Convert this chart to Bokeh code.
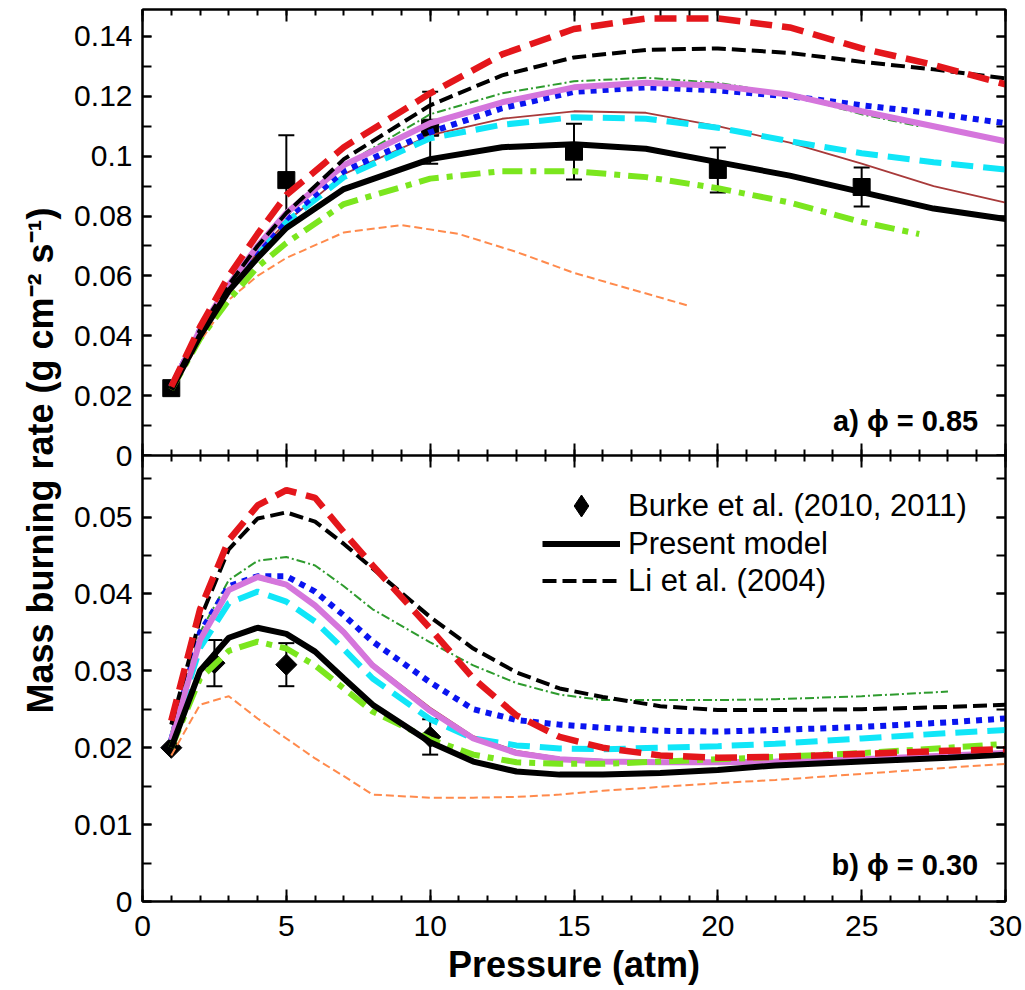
import math
from bokeh.plotting import figure
from bokeh.layouts import row, column
from bokeh.models import (Range1d, SingleIntervalTicker, LinearAxis, CustomJSTickFormatter,
                          Whisker, TeeHead, ColumnDataSource, Legend, LegendItem, Label)
from bokeh.core.properties import value
from bokeh.embed import file_html
from bokeh.resources import INLINE

# ---------------- data: panel a) phi = 0.85 ----------------
P_A = [1, 2, 3, 4, 5, 7, 10, 12.5, 15, 17.5, 20, 22.5, 25, 27.5, 30]
A_RED = [0.023, 0.043, 0.060, 0.074, 0.087, 0.103, 0.121, 0.134, 0.1425, 0.146, 0.146, 0.143, 0.136, 0.1305, 0.124]
A_LI = [0.023, 0.042, 0.057, 0.070, 0.081, 0.099, 0.117, 0.127, 0.133, 0.1355, 0.136, 0.1345, 0.1315, 0.129, 0.126]
A_VIOLET = [0.023, 0.042, 0.057, 0.070, 0.081, 0.097, 0.111, 0.118, 0.123, 0.1245, 0.1235, 0.1205, 0.115, 0.110, 0.105]
A_BLUE = [0.023, 0.042, 0.056, 0.068, 0.079, 0.095, 0.108, 0.116, 0.1215, 0.123, 0.122, 0.120, 0.117, 0.1143, 0.111]
A_BROWN = [0.023, 0.042, 0.056, 0.068, 0.078, 0.094, 0.107, 0.1125, 0.115, 0.1145, 0.110, 0.1045, 0.0975, 0.090, 0.0845]
A_CYAN = [0.023, 0.042, 0.056, 0.068, 0.078, 0.093, 0.106, 0.1105, 0.113, 0.1125, 0.1095, 0.105, 0.101, 0.098, 0.0955]
A_MODEL = [0.022, 0.040, 0.055, 0.066, 0.076, 0.089, 0.099, 0.103, 0.104, 0.1025, 0.098, 0.0935, 0.088, 0.0825, 0.079]
P_A27 = [1, 2, 3, 4, 5, 7, 10, 12.5, 15, 17.5, 20, 22.5, 25, 27]
A_GREEN = [0.023, 0.042, 0.057, 0.069, 0.080, 0.097, 0.114, 0.121, 0.125, 0.1262, 0.1245, 0.1205, 0.114, 0.110]
A_LIME = [0.022, 0.039, 0.052, 0.063, 0.071, 0.084, 0.0925, 0.095, 0.095, 0.093, 0.0893, 0.0845, 0.078, 0.074]
P_A19 = [1, 2, 3, 4, 5, 7, 9, 11, 13, 15, 17, 19]
A_ORANGE = [0.022, 0.038, 0.052, 0.060, 0.066, 0.0745, 0.077, 0.074, 0.068, 0.061, 0.0555, 0.050]
# experiments (Burke et al.)
EXP_A_P = [1, 5, 10, 15, 20, 25]
EXP_A_M = [0.0225, 0.092, 0.1095, 0.1015, 0.0954, 0.0897]
EXP_A_ERR = [0.0, 0.015, 0.012, 0.0093, 0.0075, 0.0065]

# ---------------- data: panel b) phi = 0.30 ----------------
P_B = [1, 2, 3, 4, 5, 6, 7, 8, 10, 11.5, 13, 14.5, 16, 18, 20, 22, 25, 28, 30]
B_RED = [0.0235, 0.038, 0.047, 0.0515, 0.0535, 0.0525, 0.048, 0.0437, 0.0355, 0.029, 0.0242, 0.0214, 0.0200, 0.0190, 0.0187, 0.0188, 0.0192, 0.0196, 0.0198]
B_LI = [0.023, 0.0367, 0.0458, 0.0498, 0.0506, 0.0494, 0.0465, 0.0433, 0.037, 0.0329, 0.0298, 0.0277, 0.0266, 0.0254, 0.0249, 0.0249, 0.025, 0.0253, 0.0256]
B_VIOLET = [0.021, 0.034, 0.0405, 0.0422, 0.0412, 0.0385, 0.035, 0.0307, 0.0248, 0.0212, 0.0193, 0.0185, 0.0182, 0.0181, 0.0181, 0.0182, 0.0185, 0.019, 0.0193]
B_BROWN = [0.021, 0.034, 0.0404, 0.042, 0.041, 0.0387, 0.0353, 0.031, 0.0252, 0.0215, 0.0196, 0.0187, 0.0184, 0.0183, 0.0183, 0.0184, 0.0186, 0.019, 0.0192]
B_BLUE = [0.021, 0.035, 0.041, 0.0423, 0.0423, 0.0403, 0.0372, 0.0338, 0.0285, 0.025, 0.0236, 0.023, 0.0226, 0.0222, 0.0221, 0.0223, 0.0227, 0.0233, 0.0238]
B_CYAN = [0.021, 0.033, 0.0388, 0.0403, 0.039, 0.0364, 0.0328, 0.029, 0.0237, 0.0212, 0.0203, 0.0199, 0.0198, 0.0200, 0.0202, 0.0205, 0.0212, 0.0219, 0.0223]
B_MODEL = [0.020, 0.030, 0.0343, 0.0356, 0.0348, 0.0325, 0.029, 0.0256, 0.0207, 0.0182, 0.0169, 0.0165, 0.0165, 0.0167, 0.0171, 0.0177, 0.0182, 0.0187, 0.0191]
B_LIME = [0.020, 0.029, 0.0326, 0.0338, 0.0329, 0.0307, 0.0277, 0.0247, 0.0211, 0.0191, 0.0181, 0.0179, 0.0179, 0.0182, 0.0185, 0.0188, 0.0193, 0.0200, 0.0205]
B_ORANGE = [0.019, 0.0256, 0.0267, 0.0238, 0.0212, 0.0186, 0.0163, 0.0139, 0.0135, 0.0135, 0.0136, 0.0139, 0.0144, 0.0149, 0.0154, 0.0158, 0.0166, 0.0174, 0.0179]
P_B28 = [1, 2, 3, 4, 5, 6, 7, 8, 10, 11.5, 13, 14.5, 16, 18, 20, 22, 25, 28]
B_GREEN = [0.022, 0.035, 0.0418, 0.0443, 0.0448, 0.0437, 0.041, 0.038, 0.0337, 0.0307, 0.0284, 0.0269, 0.0262, 0.0262, 0.0262, 0.0263, 0.0267, 0.0273]
EXP_B_P = [1, 2.5, 5, 10]
EXP_B_M = [0.020, 0.031, 0.0308, 0.0214]
EXP_B_ERR = [0.0, 0.003, 0.0028, 0.0023]

X_LABEL = "Pressure (atm)"
Y_LABEL = "Mass burning rate (g cm\u207b\u00b2 s\u207b\u00b9)"
LEGEND_LABELS = ["Burke et al. (2010, 2011)", "Present model", "Li et al. (2004)"]
PANEL_A = "a) \u03d5 = 0.85"
PANEL_B = "b) \u03d5 = 0.30"

# ---------------- styles ----------------
ST = {
    "orange": dict(line_color="#ff8a4c", line_width=2, line_dash="8 4"),
    "brown": dict(line_color="#a83a3a", line_width=1.8),
    "green": dict(line_color="#2e9b2e", line_width=2, line_dash="9 3 2 3"),
    "cyan": dict(line_color="#10e6f8", line_width=6, line_dash="22 10"),
    "blue": dict(line_color="#0a14f0", line_width=6, line_dash="6 6"),
    "violet": dict(line_color="#d576dc", line_width=6),
    "lime": dict(line_color="#7be61e", line_width=6, line_dash="20 8 6 8"),
    "model": dict(line_color="black", line_width=6),
    "li": dict(line_color="black", line_width=4, line_dash="14 6"),
    "red": dict(line_color="#e4161b", line_width=6.5, line_dash="22 10"),
}
FONT = value("Liberation Sans")
OVERLAP = 20  # px of panel a's lower border hidden under panel b

empty_fmt = CustomJSTickFormatter(code="return '';")
y_fmt = CustomJSTickFormatter(code="var s = tick.toFixed(3); s = s.replace(/0+$/, ''); s = s.replace(/\\.$/, ''); return s;")
x_fmt = CustomJSTickFormatter(code="return Math.round(tick).toString();")


def style_axis(ax, major_in, minor_in, labels=True, font_size="30px"):
    ax.major_tick_in = major_in
    ax.major_tick_out = 0
    ax.minor_tick_in = minor_in
    ax.minor_tick_out = 0
    ax.axis_line_width = 2
    ax.axis_line_color = "black"
    ax.major_tick_line_width = 2
    ax.minor_tick_line_width = 2
    ax.major_tick_line_color = "black"
    ax.minor_tick_line_color = "black"
    if labels:
        ax.major_label_text_font = "Liberation Sans"
        ax.major_label_text_font_size = font_size
        ax.major_label_text_color = "black"
    else:
        ax.formatter = empty_fmt
        ax.major_label_standoff = 0
        ax.major_label_text_font_size = "0px"


def make_panel(height, ymax, ytick, border_top, border_bottom, show_x_labels):
    p = figure(width=955, height=height, x_range=Range1d(0, 30), y_range=Range1d(0, ymax),
               output_backend="svg", toolbar_location=None,
               min_border_left=72, min_border_right=20,
               min_border_top=border_top, min_border_bottom=border_bottom,
               x_axis_type=None, y_axis_type=None)
    p.outline_line_color = "black"
    p.outline_line_width = 2
    p.grid.visible = False
    p.background_fill_color = "white"

    xt = SingleIntervalTicker(interval=5, num_minor_ticks=5)
    yt = SingleIntervalTicker(interval=ytick, num_minor_ticks=2)

    xb = LinearAxis(ticker=xt)
    if show_x_labels:
        style_axis(xb, 12, 6, labels=True, font_size="30px")
        xb.formatter = x_fmt
        xb.major_label_standoff = 14
        xb.axis_label = X_LABEL
        xb.axis_label_text_font = "Liberation Sans"
        xb.axis_label_text_font_style = "bold"
        xb.axis_label_text_font_size = "36px"
        xb.axis_label_text_color = "black"
        xb.axis_label_standoff = 5
    else:
        style_axis(xb, 12, 6, labels=False)
    p.add_layout(xb, "below")

    xa = LinearAxis(ticker=SingleIntervalTicker(interval=5, num_minor_ticks=5))
    style_axis(xa, 12, 6, labels=False)
    p.add_layout(xa, "above")

    yl = LinearAxis(ticker=yt, formatter=y_fmt)
    style_axis(yl, 9, 9, labels=True, font_size="30px")
    yl.major_label_standoff = 10
    p.add_layout(yl, "left")

    yr = LinearAxis(ticker=SingleIntervalTicker(interval=ytick, num_minor_ticks=2))
    style_axis(yr, 9, 9, labels=False)
    p.add_layout(yr, "right")
    return p


def add_errors(p, xs, ys, errs, marker, size, angle=0.0):
    src = ColumnDataSource(dict(x=xs, y=ys,
                                upper=[a + b for a, b in zip(ys, errs)],
                                lower=[a - b for a, b in zip(ys, errs)]))
    w = Whisker(source=src, base="x", upper="upper", lower="lower", line_width=2,
                line_color="black",
                upper_head=TeeHead(size=16, line_width=2, line_color="black"),
                lower_head=TeeHead(size=16, line_width=2, line_color="black"))
    p.add_layout(w)
    r = p.scatter("x", "y", source=src, marker=marker, size=size, angle=angle,
                  fill_color="black", line_color="black")
    return r


# ---------------- panel a ----------------
pa = make_panel(455 + OVERLAP, 0.149, 0.02, 9, OVERLAP, False)
pa.border_fill_color = "white"
add_errors(pa, EXP_A_P, EXP_A_M, EXP_A_ERR, "square", 17)
pa.line(P_A19, A_ORANGE, **ST["orange"])
pa.line(P_A, A_BROWN, **ST["brown"])
pa.line(P_A27, A_GREEN, **ST["green"])
pa.line(P_A, A_CYAN, **ST["cyan"])
pa.line(P_A, A_BLUE, **ST["blue"])
pa.line(P_A, A_VIOLET, **ST["violet"])
pa.line(P_A27, A_LIME, **ST["lime"])
pa.line(P_A, A_MODEL, **ST["model"])
pa.line(P_A, A_LI, **ST["li"])
pa.line(P_A, A_RED, **ST["red"])
pa.add_layout(Label(x=29.05, y=0.0115, text=PANEL_A, text_align="right", text_baseline="middle",
                    text_font="Liberation Sans", text_font_style="bold", text_font_size="29px",
                    text_color="black"))

# ---------------- panel b ----------------
pb = make_panel(535, 0.058, 0.01, 0, 89, True)
pb.border_fill_alpha = 0.0
pb.margin = (-OVERLAP, 0, 0, 0)
# diamond renderer of the Burke points (used for the legend key; covered by the tilted squares)
r_exp_key = pb.scatter(EXP_B_P, EXP_B_M, marker="diamond", size=12, fill_color="black", line_color="black")
add_errors(pb, EXP_B_P, EXP_B_M, EXP_B_ERR, "square", 15, math.pi / 4)
pb.line(P_B, B_ORANGE, **ST["orange"])
pb.line(P_B, B_BROWN, **ST["brown"])
pb.line(P_B28, B_GREEN, **ST["green"])
pb.line(P_B, B_CYAN, **ST["cyan"])
pb.line(P_B, B_BLUE, **ST["blue"])
pb.line(P_B, B_VIOLET, **ST["violet"])
pb.line(P_B, B_LIME, **ST["lime"])
r_model = pb.line(P_B, B_MODEL, **ST["model"])
r_li = pb.line(P_B, B_LI, **ST["li"])
pb.line(P_B, B_RED, **ST["red"])
pb.add_layout(Label(x=29.05, y=0.0047, text=PANEL_B, text_align="right", text_baseline="middle",
                    text_font="Liberation Sans", text_font_style="bold", text_font_size="29px",
                    text_color="black"))

leg_common = dict(orientation="vertical", glyph_width=78, label_standoff=8,
                  spacing=0, padding=0, margin=0, border_line_color=None,
                  background_fill_alpha=0, label_text_font="Liberation Sans",
                  label_text_font_size="31px", label_text_color="black")
legend_exp = Legend(items=[LegendItem(label=LEGEND_LABELS[0], renderers=[r_exp_key])],
                    location=(400, 368), glyph_height=55, label_height=55, **leg_common)
legend_lines = Legend(items=[LegendItem(label=LEGEND_LABELS[1], renderers=[r_model]),
                             LegendItem(label=LEGEND_LABELS[2], renderers=[r_li])],
                      location=(400, 302), glyph_height=37, label_height=37, **leg_common)
pb.add_layout(legend_exp)
pb.add_layout(legend_lines)

# ---------------- y-axis title strip ----------------
p0 = figure(width=70, height=990, x_range=Range1d(0, 70), y_range=Range1d(0, 990),
            output_backend="svg", toolbar_location=None, x_axis_type=None, y_axis_type=None,
            min_border=0, min_border_left=0, min_border_right=0, min_border_top=0, min_border_bottom=0)
p0.outline_line_color = None
p0.grid.visible = False
p0.text(x=[40], y=[990 - 460], text=[Y_LABEL], angle=math.pi / 2,
        text_align="center", text_baseline="middle", text_font=FONT,
        text_font_style="bold", text_font_size="36px", text_color="black")

layout = row(p0, column(pa, pb, spacing=0), spacing=0)

open("out.html", "w").write(file_html(layout, INLINE))
